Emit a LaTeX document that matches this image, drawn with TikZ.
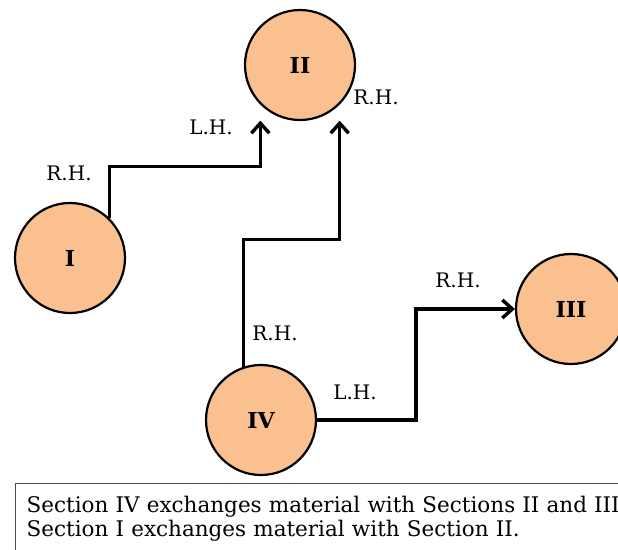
\documentclass[tikz,border=0pt]{standalone}
\usepackage{fontspec}
\setmainfont{DejaVu Serif}
\usepackage{xcolor}
\usetikzlibrary{arrows.meta}
\definecolor{peach}{RGB}{250,192,144}
\tikzstyle{section} = [circle, minimum size=110pt, inner sep=0pt, draw=black, line width=2.2pt, fill=peach, font=\bfseries\fontsize{22}{22}\selectfont]
\tikzstyle{hand} = [inner sep=0pt, font=\fontsize{20}{20}\selectfont]
\tikzstyle{arrow} = [line width=3.4pt, -{Straight Barb[length=10pt,width=18pt]}]
\tikzstyle{notebox} = [anchor=north west, draw=black!70, line width=1.4pt, text width=620pt, align=left, inner xsep=11pt, inner ysep=12.5pt, font=\fontsize{21.5}{24}\selectfont]

\begin{document}
\begin{tikzpicture}[x=1pt, y=-1pt]
        \useasboundingbox (0,0) rectangle (618,549);
        \clip (0,0) rectangle (618,549);

        \node (secII) [section] at (300,65) {II};
        \node (secI) [section] at (70,258) {I};
        \node (secIII) [section] at (571,309) {III};
        \node (secIV) [section] at (261,420) {IV};

        \node (rhI) [hand] at (69,173) {R.H.};
        \node (lhII) [hand] at (211,127) {L.H.};
        \node (rhII) [hand] at (376,97) {R.H.};
        \node (rhIV) [hand] at (275,333) {R.H.};
        \node (lhIV) [hand] at (355,392) {L.H.};
        \node (rhIII) [hand] at (458,280) {R.H.};

        \draw [arrow, shorten >=16pt] (secI.north east) -- ++(0,-52) -| (secII.south west);
        \draw [arrow, shorten >=16pt] (secIV.108) -- ++(0,-127) -| (secII.south east);
        \draw [arrow] (secIV.east) -- ++(99,0) |- (secIII.west);

        \node (note) [notebox] at (15,483) {Section IV exchanges material with Sections II and III\\Section I exchanges material with Section II.};
    \end{tikzpicture}
\end{document}
